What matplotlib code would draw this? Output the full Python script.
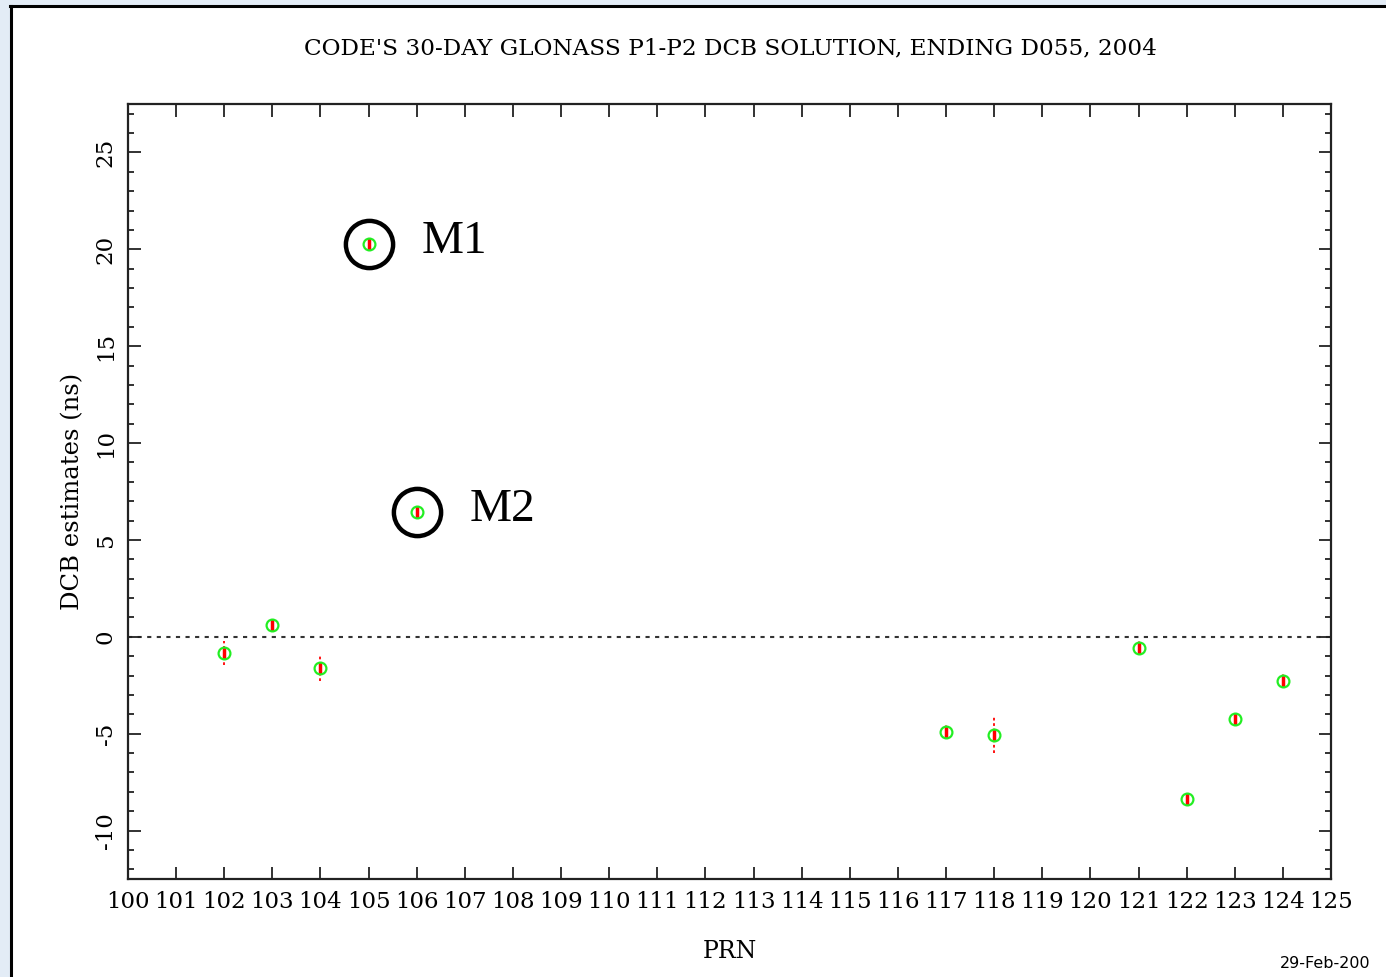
import matplotlib
matplotlib.use("Agg")
import matplotlib.pyplot as plt
from matplotlib.patches import Rectangle
from matplotlib.lines import Line2D
from matplotlib.ticker import MultipleLocator

# Data
prn = [102, 103, 104, 105, 106, 117, 118, 121, 122, 123, 124]
dcb = [-0.82, 0.62, -1.60, 20.26, 6.44, -4.90, -5.05, -0.57, -8.35, -4.23, -2.27]
err = [0.62, 0.30, 0.70, 0.30, 0.25, 0.35, 0.95, 0.35, 0.30, 0.30, 0.35]
x_ticks = list(range(100, 126))
y_ticks = [-10, -5, 0, 5, 10, 15, 20, 25]
marked = [(105, 20.26, "M1"), (106, 6.44, "M2")]

title = "CODE'S 30-DAY GLONASS P1-P2 DCB SOLUTION, ENDING D055, 2004"

plt.rcParams['font.family'] = ['DejaVu Serif']

W, H = 1386, 977
fig = plt.figure(figsize=(W / 100, H / 100), dpi=100)
fig.patch.set_facecolor('#e3ecf6')

# white panel with black frame (left & top)
fig.add_artist(Rectangle((10 / W, 0), 1 - 10 / W, 1 - 6 / H, transform=fig.transFigure,
                         facecolor='white', edgecolor='none', zorder=0))
fig.add_artist(Line2D([11 / W, 11 / W], [0, 1 - 6 / H], transform=fig.transFigure,
                      color='black', lw=2.2, zorder=1))
fig.add_artist(Line2D([10 / W, 1], [1 - 6 / H, 1 - 6 / H], transform=fig.transFigure,
                      color='black', lw=2.2, zorder=1))

ax = fig.add_axes([128 / W, 1 - 879 / H, (1331 - 128) / W, (879 - 104) / H])
ax.set_facecolor('white')
ax.set_xlim(100, 125)
ax.set_ylim(-12.5, 27.5)

# zero line
ax.axhline(0, color='#333333', lw=1.5, ls=(0, (2, 2.6)), zorder=1)

# error bars (dotted red)
eb = ax.errorbar(prn, dcb, yerr=err, fmt='none', ecolor='red', elinewidth=1.3,
                 capsize=0, zorder=2)
eb.lines[2][0].set_linestyle((0, (1.5, 1.5)))
# red centre bar
ax.plot(prn, dcb, ls='none', marker='|', color='red', ms=8, mew=2.5, zorder=3)
# green circles
ax.plot(prn, dcb, ls='none', marker='o', mfc='none', mec='#22ee22', ms=8.5, mew=1.6, zorder=4)

# highlighted circles and labels
for xm, ym, lab in marked:
    ax.plot([xm], [ym], ls='none', marker='o', mfc='none', mec='black', ms=34, mew=3.2, zorder=5)
    ax.annotate(lab, (xm, ym), xytext=(38, 2), textcoords='offset points',
                ha='left', va='center', fontsize=34, family='Liberation Serif', zorder=6)

# ticks
ax.set_xticks(x_ticks)
ax.set_xticklabels([str(t) for t in x_ticks])
ax.set_yticks(y_ticks)
ax.set_yticklabels([str(t) for t in y_ticks], rotation=90, va='center')
ax.yaxis.set_minor_locator(MultipleLocator(1))
ax.tick_params(axis='both', which='major', direction='in', length=9, width=1.3,
               top=True, right=True, color='#222222')
ax.tick_params(axis='y', which='minor', direction='in', length=4.5, width=1.3,
               left=True, right=True, color='#222222')
ax.tick_params(axis='x', labelsize=16.5, pad=9)
ax.tick_params(axis='y', labelsize=16.5, pad=8)
for s in ax.spines.values():
    s.set_linewidth(1.6)
    s.set_color('#222222')

ax.set_ylabel('DCB estimates (ns)', fontsize=17.5, labelpad=8)
ax.set_xlabel('PRN', fontsize=17, labelpad=19)

fig.text(730 / W, 1 - 48 / H, title, ha='center', va='center', fontsize=16.7)
fig.text(1280 / W, 1 - 964 / H, '29-Feb-200', ha='left', va='center', fontsize=11.5,
         family='DejaVu Sans')

fig.savefig('out.png', dpi=100, facecolor=fig.get_facecolor())
